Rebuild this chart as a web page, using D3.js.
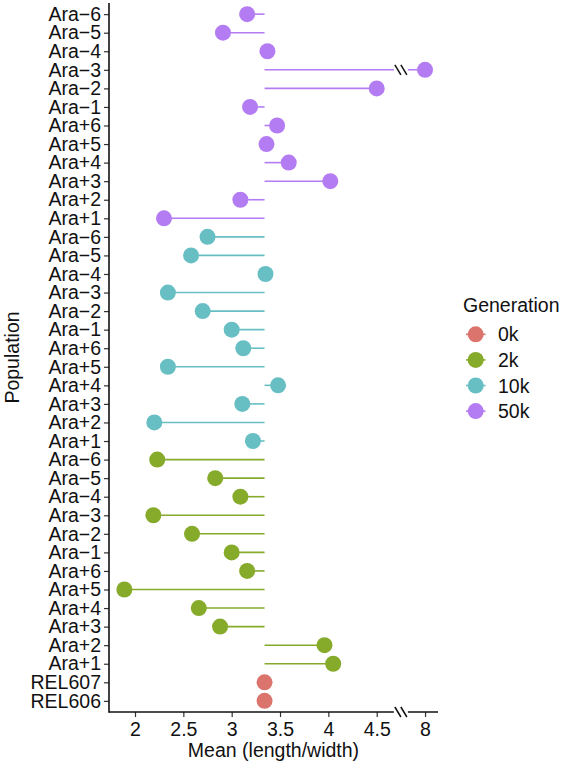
<!DOCTYPE html>
<html>
<head>
<meta charset="utf-8">
<script src="https://cdn.jsdelivr.net/npm/d3@7"></script>
<style>
  html, body { margin: 0; padding: 0; background: #fff; }
  svg { display: block; font-family: "Liberation Sans", Arial, Helvetica, sans-serif; }
</style>
</head>
<body>
<svg id="chart" width="566" height="765"></svg>
<script>
// ---- Data ----
const populations = ["Ara+1","Ara+2","Ara+3","Ara+4","Ara+5","Ara+6","Ara\u22121","Ara\u22122","Ara\u22123","Ara\u22124","Ara\u22125","Ara\u22126"];
const ancestors = ["REL606","REL607"];
const ancestorValues = [3.34, 3.34];
const gen2k  = [4.05, 3.96, 2.88, 2.66, 1.89, 3.16, 3.00, 2.59, 2.19, 3.09, 2.83, 2.23];
const gen10k = [3.22, 2.20, 3.11, 3.48, 2.34, 3.12, 3.00, 2.70, 2.34, 3.35, 2.58, 2.75];
const gen50k = [2.30, 3.09, 4.02, 3.59, 3.36, 3.47, 3.19, 4.50, 8.00, 3.37, 2.91, 3.16];
const generations = ["0k","2k","10k","50k"];
const genColors = ["#DA746D","#86AA2A","#67BFC4","#B47CF3"];
const baseline = 3.34;
const xTicks = [2, 2.5, 3, 3.5, 4, 4.5, 8];
const breakLow = 4.75, breakHigh = 7.75;

(function () {
const FS = 19.5;
// ---- Build rows (bottom to top) ----
const rows = [];
ancestors.forEach((p, i) => rows.push({key: "0k|" + p, pop: p, gen: "0k", value: ancestorValues[i]}));
[["2k", gen2k], ["10k", gen10k], ["50k", gen50k]].forEach(([g, vals]) => {
  populations.forEach((p, i) => rows.push({key: g + "|" + p, pop: p, gen: g, value: vals[i]}));
});

// ---- Layout ----
const svg = d3.select("#chart");
const pLeft = 109, pRight = 438, pTop = 3, pBottom = 712;

const color = d3.scaleOrdinal().domain(generations).range(genColors);

const unit = (376.7 - 135) / 2.5;
const xBreak = 135 + (breakLow - 2) * unit;
const xMin = 2 - (135 - pLeft) / unit;
const xMax = breakHigh + (pRight - xBreak) / unit;
const x = d3.scaleLinear()
  .domain([xMin, breakLow, breakHigh, xMax])
  .range([pLeft, xBreak, xBreak, pRight]);

const y = d3.scalePoint()
  .domain(rows.map(d => d.key).reverse())
  .range([pTop, pBottom])
  .padding(0.6);

// ---- Segments ----
svg.append("g").selectAll("line")
  .data(rows.filter(d => d.gen !== "0k"))
  .join("line")
  .attr("x1", x(baseline))
  .attr("x2", d => x(d.value))
  .attr("y1", d => y(d.key))
  .attr("y2", d => y(d.key))
  .attr("stroke", d => color(d.gen))
  .attr("stroke-width", 1.6);

// Break marks on segments crossing the break
const breakMark = (g, cx, cy) => {
  [-3, 3].forEach(off => {
    g.append("line")
      .attr("x1", cx + off - 3).attr("y1", cy - 5)
      .attr("x2", cx + off + 3).attr("y2", cy + 5)
      .attr("stroke", "#111").attr("stroke-width", 1.5);
  });
};
const marks = svg.append("g");
rows.filter(d => d.value > breakHigh).forEach(d => {
  marks.append("rect").attr("x", xBreak - 7).attr("y", y(d.key) - 2).attr("width", 14).attr("height", 4).attr("fill", "#fff");
  breakMark(marks, xBreak, y(d.key));
});

// ---- Points ----
svg.append("g").selectAll("circle")
  .data(rows)
  .join("circle")
  .attr("cx", d => x(d.value))
  .attr("cy", d => y(d.key))
  .attr("r", 8)
  .attr("fill", d => color(d.gen));

// ---- Axes ----
const xAxis = d3.axisBottom(x).tickValues(xTicks).tickFormat(d3.format("")).tickSizeOuter(0).tickSize(5).tickPadding(5);
const gx = svg.append("g").attr("transform", `translate(0,${pBottom})`).call(xAxis);
gx.select(".domain").remove();
gx.append("line").attr("x1", pLeft).attr("x2", pRight).attr("stroke", "#111").attr("stroke-width", 1.6);
gx.selectAll(".tick line").attr("stroke", "#333").attr("stroke-width", 1.2);
gx.selectAll(".tick text").attr("font-size", FS).attr("fill", "#111").attr("font-family", "Liberation Sans, Arial, sans-serif");
gx.append("rect").attr("x", xBreak - 7).attr("y", -2).attr("width", 14).attr("height", 4).attr("fill", "#fff");
breakMark(gx, xBreak, 0);

const labelOf = {};
rows.forEach(d => labelOf[d.key] = d.pop);
const yAxis = d3.axisLeft(y).tickFormat(k => labelOf[k]).tickSizeOuter(0).tickSize(5).tickPadding(3);
const gy = svg.append("g").attr("transform", `translate(${pLeft},0)`).call(yAxis);
gy.select(".domain").remove();
gy.append("line").attr("y1", pTop).attr("y2", pBottom + 0.8).attr("stroke", "#111").attr("stroke-width", 1.6);
gy.selectAll(".tick line").attr("stroke", "#333").attr("stroke-width", 1.2);
gy.selectAll(".tick text").attr("font-size", FS).attr("fill", "#111").attr("font-family", "Liberation Sans, Arial, sans-serif");

// ---- Axis titles ----
svg.append("text")
  .attr("x", (pLeft + pRight) / 2).attr("y", 757)
  .attr("text-anchor", "middle").attr("font-size", FS).attr("fill", "#111")
  .text("Mean (length/width)");
svg.append("text")
  .attr("transform", `translate(19,${(pTop + pBottom) / 2}) rotate(-90)`)
  .attr("text-anchor", "middle").attr("font-size", FS).attr("fill", "#111")
  .text("Population");

// ---- Legend ----
const lg = svg.append("g");
lg.append("text").attr("x", 463).attr("y", 312).attr("font-size", FS).attr("fill", "#111").text("Generation");
generations.forEach((g, i) => {
  const cy = 334.3 + i * 25.6;
  lg.append("line").attr("x1", 466).attr("x2", 485.5).attr("y1", cy).attr("y2", cy)
    .attr("stroke", color(g)).attr("stroke-width", 1.6);
  lg.append("circle").attr("cx", 475.7).attr("cy", cy).attr("r", 8).attr("fill", color(g));
  lg.append("text").attr("x", 498).attr("y", cy).attr("dy", "0.36em")
    .attr("font-size", FS).attr("fill", "#111").text(g);
});
})();
</script>
</body>
</html>
